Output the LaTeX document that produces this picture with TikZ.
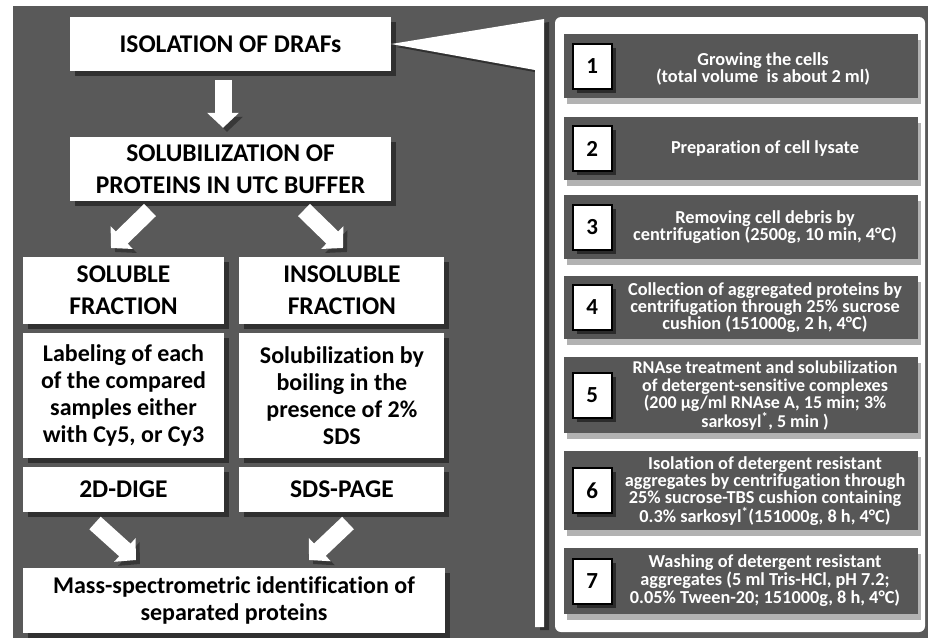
\documentclass[tikz,border=0pt]{standalone}
\usepackage{fontspec}
\setmainfont{Carlito}[Ligatures=NoCommon]
\usetikzlibrary{positioning,shadows,arrows.meta}
\definecolor{bggray}{HTML}{595959}
\definecolor{stepgray}{HTML}{575757}
\definecolor{shadegray}{HTML}{383838}

\begin{document}
\begin{tikzpicture}[x=1pt, y=-1pt, node distance=9pt,
  hbox/.style={fill=white, inner sep=0pt, align=center,
    font=\bfseries\fontsize{25.5}{32}\selectfont,
    drop shadow={shadow xshift=5pt, shadow yshift=-5pt, fill=black, opacity=.45}},
  tbox/.style={hbox, font=\bfseries\fontsize{24}{27}\selectfont},
  fatarrow/.style={draw=white, line width=17pt, -{Triangle[width=31pt,length=15pt]},
    preaction={draw=shadegray, transform canvas={shift={(4pt,-4pt)}}}},
  stepbox/.style={fill=stepgray, minimum width=354pt, inner sep=0pt,
    drop shadow={shadow xshift=3pt, shadow yshift=-6pt, fill=black, opacity=.3}},
  numbox/.style={draw=black, line width=2pt, fill=white, minimum width=39pt,
    minimum height=45pt, inner sep=0pt, font=\bfseries\fontsize{23}{23}\selectfont,
    drop shadow={shadow xshift=4pt, shadow yshift=-4pt, fill=black, opacity=.5}},
  steptext/.style={text=white, align=center, inner sep=0pt,
    font=\bfseries\fontsize{18.3}{17}\selectfont}]
\useasboundingbox (0,0) rectangle (928,638);
\fill[bggray] (13,6) rectangle (928,638);

% left column
\node[hbox, minimum width=321pt, minimum height=54pt] (iso) at (230.5,44) {ISOLATION OF DRAFs};
\node[hbox, minimum width=321pt, minimum height=64pt] (solub) at (230.5,169) {SOLUBILIZATION OF\\PROTEINS IN UTC BUFFER};
\node[hbox, minimum width=201pt, minimum height=67pt] (sfrac) at (123.5,290.5) {SOLUBLE\\FRACTION};
\node[hbox, minimum width=205pt, minimum height=67pt, right=15pt of sfrac] (ifrac) {INSOLUBLE\\FRACTION};
\node[tbox, minimum width=201pt, minimum height=125pt, below=of sfrac] (label) {Labeling of each\\of the compared\\samples either\\with Cy5, or Cy3};
\node[tbox, minimum width=205pt, minimum height=125pt, below=of ifrac] (boil) {Solubilization by\\boiling in the\\presence of 2\%\\SDS};
\node[hbox, minimum width=201pt, minimum height=45pt, below=8pt of label] (dige) {2D-DIGE};
\node[hbox, minimum width=205pt, minimum height=45pt, below=8pt of boil] (page) {SDS-PAGE};
\node[tbox, minimum width=422pt, minimum height=65pt] (mass) at (234,600.5) {Mass-spectrometric identification of\\separated proteins};

% arrows
\coordinate (d1a) at (150,210); \coordinate (d1b) at (111,248);
\coordinate (d2a) at (304,210); \coordinate (d2b) at (343,248);
\coordinate (d3a) at (95,523);  \coordinate (d3b) at (136,560);
\coordinate (d4a) at (348,523); \coordinate (d4b) at (309,560);
\draw[fatarrow, shorten <=9pt, shorten >=9pt] ([xshift=-7.5pt]iso.south) -- ([xshift=-7.5pt]solub.north);
\foreach \from/\to in {d1a/d1b, d2a/d2b, d3a/d3b, d4a/d4b}
  \draw[fatarrow] (\from) -- (\to);

% right panel
\fill[white, rounded corners=6pt] (555,17) rectangle (925,632);
\fill[white, drop shadow={shadow xshift=5pt, shadow yshift=-3pt, fill=black, opacity=.45}]
  (iso.east) -- (544,19) -- (544,627) -- (535,627) -- (535,70) -- cycle;

\foreach \i/\yc/\h in {1/66/64, 2/148.5/63, 3/227/64, 4/307.5/63, 5/395/76, 6/490.5/79, 7/581/66} {
  \node[stepbox, minimum height=\h pt] (s\i) at (741,\yc) {};
  \node[numbox] (n\i) at ([xshift=28.5pt]s\i.west) {\i};
}
\node[steptext, font=\bfseries\fontsize{18.3}{16.5}\selectfont] (t1) at (763,69) {Growing the cells\\(total volume\ \ is about 2 ml)};
\node[steptext] (t2) at (765,148.5) {Preparation of cell lysate};
\node[steptext, font=\bfseries\fontsize{18.3}{16}\selectfont] (t3) at (765,227) {Removing cell debris by\\centrifugation (2500g, 10 min, 4°C)};
\node[steptext, font=\bfseries\fontsize{18.3}{15.8}\selectfont] (t4) at (765,307.5) {Collection of aggregated proteins by\\centrifugation through 25\% sucrose\\cushion (151000g, 2 h, 4°C)};
\node[steptext, font=\bfseries\fontsize{18}{17.4}\selectfont] (t5) at (765,396) {RNAse treatment and solubilization\\of detergent-sensitive complexes\\(200 µg/ml RNAse A, 15 min; 3\%\\sarkosyl\textsuperscript{*}, 5 min )};
\node[steptext] (t6) at (765,491) {Isolation of detergent resistant\\aggregates by centrifugation through\\25\% sucrose-TBS cushion containing\\0.3\% sarkosyl\textsuperscript{*}(151000g, 8 h, 4°C)};
\node[steptext, font=\bfseries\fontsize{18.3}{18}\selectfont] (t7) at (765,581) {Washing of detergent resistant\\aggregates (5 ml Tris-HCl, pH 7.2;\\0.05\% Tween-20; 151000g, 8 h, 4°C)};
\end{tikzpicture}
\end{document}
